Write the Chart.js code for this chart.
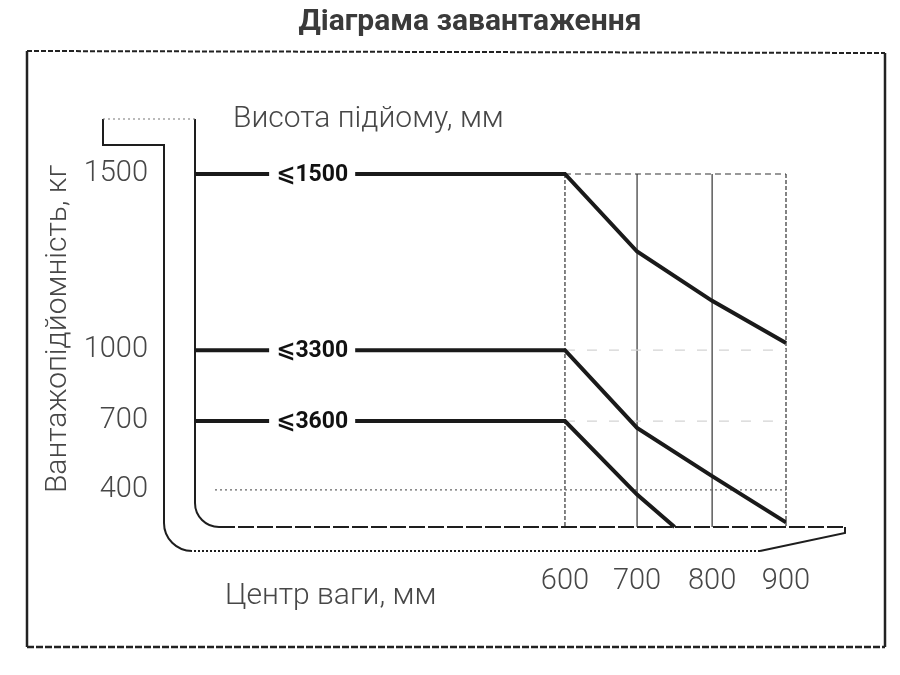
<!DOCTYPE html>
<html lang="uk">
<head>
<meta charset="utf-8">
<title>Діаграма завантаження</title>
<script src="https://cdn.jsdelivr.net/npm/chart.js@4.4.1/dist/chart.umd.min.js"></script>
<style>
    html, body { margin: 0; padding: 0; background: #fff; }
    #wrap { width: 900px; height: 675px; }
</style>
</head>
<body>
<div id="wrap"><canvas id="loadChart" width="900" height="675"></canvas></div>
<script>
// Load centre, mm
const loadCentres = [0, 600, 700, 800, 900];
const loadCentres3600 = [0, 600, 700, 750];

// Lift heights, mm
const liftHeights = [1500, 3300, 3600];

// Rated capacity, kg
const capacity1500 = [1500, 1500, 1280, 1140, 1020];
const capacity3300 = [1000, 1000, 670, 460, 260];
const capacity3600 = [700, 700, 380, 240];

// Tick labels
const capacityTicks = [400, 700, 1000, 1500];
const centreTicks = [600, 700, 800, 900];

// The diagram is not to scale: each axis is stretched piecewise (value, fraction of axis)
const axisKnots = {
    x: [[0, 0], [600, 0.626], [700, 0.748], [800, 0.875], [900, 1]],
    y: [[240, 0], [400, 0.105], [700, 0.30], [1000, 0.501], [1500, 1]]
};

const FONT = 'Roboto, "DejaVu Sans", sans-serif';

class SchemeScale extends Chart.LinearScale {
    static id = 'scheme';
    static defaults = {};

    fraction(value) {
        const k = axisKnots[this.id];
        let i = 0;
        while (i < k.length - 2 && value > k[i + 1][0]) i++;
        const [v0, f0] = k[i], [v1, f1] = k[i + 1];
        return f0 + (value - v0) * (f1 - f0) / (v1 - v0);
    }

    getPixelForValue(value) {
        const f = this.fraction(value);
        return this.isHorizontal() ? this.left + f * this.width : this.bottom - f * this.height;
    }

    getValueForPixel(pixel) {
        const f = this.isHorizontal() ? (pixel - this.left) / this.width : (this.bottom - pixel) / this.height;
        const k = axisKnots[this.id];
        let i = 0;
        while (i < k.length - 2 && f > k[i + 1][1]) i++;
        const [v0, f0] = k[i], [v1, f1] = k[i + 1];
        return v0 + (f - f0) * (v1 - v0) / (f1 - f0);
    }
}
Chart.register(SchemeScale);

function seg(ctx, x1, y1, x2, y2, dash) {
    ctx.setLineDash(dash || []);
    ctx.beginPath();
    ctx.moveTo(x1, y1);
    ctx.lineTo(x2, y2);
    ctx.stroke();
}

// Frame, fork outline, grid and captions
const diagramDecor = {
    id: 'diagramDecor',
    beforeDraw(chart) {
        const { ctx } = chart;
        const x = chart.scales.x, y = chart.scales.y;
        ctx.save();
        ctx.fillStyle = '#fff';
        ctx.fillRect(0, 0, chart.width, chart.height);

        // outer frame
        ctx.strokeStyle = '#222';
        ctx.lineWidth = 2.5;
        seg(ctx, 27, 51, 27, 647);
        seg(ctx, 885, 53, 885, 647);
        ctx.lineWidth = 2;
        seg(ctx, 27, 51, 885, 53, [5, 2]);
        ctx.lineWidth = 2.5;
        seg(ctx, 27, 647, 885, 647, [7, 2]);

        // fork
        const x0 = x.getPixelForValue(0), yb = y.bottom, yt = y.top - 55;
        const back = x0 - 31, lip = x0 - 92, tip = x0 + 650;
        ctx.strokeStyle = '#1e1e1e';
        ctx.lineWidth = 2;
        ctx.setLineDash([]);
        ctx.beginPath();
        ctx.moveTo(x0, yt);
        ctx.arcTo(x0, yb, x0 + 24, yb, 24);
        ctx.stroke();
        seg(ctx, x0 + 24, yb, tip, yb, [16, 3]);
        ctx.setLineDash([]);
        ctx.beginPath();
        ctx.moveTo(tip, yb);
        ctx.lineTo(tip, yb + 6);
        ctx.lineTo(tip - 85, yb + 24);
        ctx.stroke();
        seg(ctx, tip - 85, yb + 24, back + 28, yb + 24, [2, 2]);
        ctx.setLineDash([]);
        ctx.beginPath();
        ctx.moveTo(back + 28, yb + 24);
        ctx.arcTo(back, yb + 24, back, yt + 26, 28);
        ctx.lineTo(back, yt + 26);
        ctx.lineTo(lip, yt + 26);
        ctx.lineTo(lip, yt);
        ctx.stroke();
        ctx.strokeStyle = '#777';
        ctx.lineWidth = 1.2;
        seg(ctx, lip, yt, x0, yt, [2, 3]);

        // captions
        ctx.setLineDash([]);
        ctx.fillStyle = '#474747';
        ctx.font = '300 30px ' + FONT;
        ctx.textAlign = 'left';
        ctx.textBaseline = 'alphabetic';
        ctx.fillText('Висота підйому, мм', 233, 127);
        ctx.fillText('Центр ваги, мм', 225, 604);
        ctx.save();
        ctx.translate(58, 329);
        ctx.rotate(-Math.PI / 2);
        ctx.textAlign = 'center';
        ctx.textBaseline = 'middle';
        ctx.fillText('Вантажопідйомність, кг', 0, 0);
        ctx.restore();
        ctx.restore();
    },
    beforeDatasetsDraw(chart) {
        const { ctx } = chart;
        const x = chart.scales.x, y = chart.scales.y;
        const top = y.getPixelForValue(capacityTicks[capacityTicks.length - 1]);
        const from = x.getPixelForValue(centreTicks[0]);
        ctx.save();
        ctx.strokeStyle = '#333';
        ctx.lineWidth = 1.2;
        centreTicks.forEach((v, i) => {
            const px = x.getPixelForValue(v);
            const edge = i === 0 || i === centreTicks.length - 1;
            seg(ctx, px, top, px, y.bottom, edge ? [4, 2] : []);
        });
        seg(ctx, from, top, x.right, top, [6, 4]);
        capacityTicks.slice(0, -1).forEach(v => {
            const py = y.getPixelForValue(v);
            if (v === capacityTicks[0]) {
                ctx.strokeStyle = '#666';
                seg(ctx, x.getPixelForValue(0) + 20, py, x.right, py, [2, 3]);
            } else {
                ctx.strokeStyle = '#d4d4d4';
                seg(ctx, from, py, x.right, py, [10, 12]);
            }
        });
        ctx.restore();
    },
    afterDatasetsDraw(chart) {
        const { ctx } = chart;
        const x = chart.scales.x;
        ctx.save();
        ctx.font = 'bold 23px ' + FONT;
        ctx.textAlign = 'center';
        ctx.textBaseline = 'middle';
        chart.data.datasets.forEach((ds, i) => {
            const py = chart.getDatasetMeta(i).data[0].y;
            const px = x.getPixelForValue(190);
            const w = ctx.measureText(ds.label).width;
            ctx.fillStyle = '#fff';
            ctx.fillRect(px - w / 2 - 7, py - 6, w + 14, 12);
            ctx.fillStyle = '#111';
            ctx.fillText(ds.label, px, py + 1);
        });
        ctx.restore();
    }
};

const series = [
    { height: liftHeights[0], centres: loadCentres, capacity: capacity1500 },
    { height: liftHeights[1], centres: loadCentres, capacity: capacity3300 },
    { height: liftHeights[2], centres: loadCentres3600, capacity: capacity3600 }
];

const tickFont = { family: FONT, size: 29, weight: '300' };

new Chart(document.getElementById('loadChart'), {
    type: 'line',
    data: {
        datasets: series.map(s => ({
            label: '⩽' + s.height,
            data: s.centres.map((c, i) => ({ x: c, y: s.capacity[i] })),
            borderColor: '#1a1a1a',
            borderWidth: 4,
            pointRadius: 0,
            tension: 0,
            fill: false,
            clip: false
        }))
    },
    options: {
        responsive: false,
        animation: false,
        layout: { padding: { left: 40, right: 0, top: 0, bottom: 0 } },
        plugins: {
            legend: { display: false },
            tooltip: { enabled: false },
            title: {
                display: true,
                text: 'Діаграма завантаження',
                color: '#3a3a3a',
                font: { family: FONT, size: 30, weight: 'bold', lineHeight: 1.2 },
                padding: { top: 4, bottom: 134 }
            }
        },
        scales: {
            x: {
                type: 'scheme',
                position: 'bottom',
                min: 0,
                max: 900,
                grid: { display: false, drawTicks: false },
                border: { display: false },
                afterBuildTicks: scale => { scale.ticks = centreTicks.map(v => ({ value: v })); },
                afterFit: scale => { scale.height = 148; scale.paddingLeft = 0; scale.paddingRight = 0; },
                ticks: {
                    autoSkip: false,
                    maxRotation: 0,
                    padding: 37,
                    color: '#474747',
                    font: tickFont,
                    callback: v => String(v)
                }
            },
            y: {
                type: 'scheme',
                position: 'left',
                min: 240,
                max: 1500,
                grid: { display: false, drawTicks: false },
                border: { display: false },
                afterBuildTicks: scale => { scale.ticks = capacityTicks.map(v => ({ value: v })); },
                afterFit: scale => { scale.width = 155; scale.paddingTop = 0; scale.paddingBottom = 0; },
                ticks: {
                    autoSkip: false,
                    padding: 47,
                    color: '#474747',
                    font: tickFont,
                    callback: v => String(v)
                }
            },
            // empty right-hand band that keeps the plot clear of the frame
            yRight: {
                type: 'linear',
                position: 'right',
                min: 240,
                max: 1500,
                grid: { display: false, drawTicks: false },
                border: { display: false },
                ticks: { display: false },
                afterFit: scale => { scale.width = 114; scale.paddingTop = 0; scale.paddingBottom = 0; }
            }
        }
    },
    plugins: [diagramDecor]
});
</script>
</body>
</html>
